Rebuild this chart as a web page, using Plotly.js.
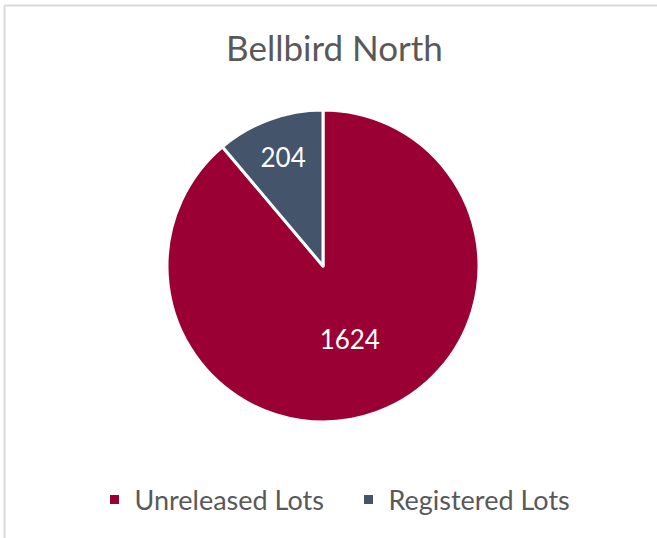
<!DOCTYPE html>
<html>
<head>
<meta charset="utf-8">
<script src="https://cdn.plot.ly/plotly-3.0.1.min.js"></script>
<style>html,body{margin:0;padding:0;background:#fff;}#chart{width:657px;height:538px;}</style>
</head>
<body>
<div id="chart"></div>
<script>
const categories = ["Unreleased Lots", "Registered Lots"];
const values = [1624, 204];
const colors = ["#9B0034", "#44546A"];
const chartTitle = "Bellbird North";

const W = 657, H = 538;
const cx = 323, cy = 266, R = 156;

const trace = {
  type: "pie",
  labels: categories,
  values: values,
  sort: false,
  direction: "clockwise",
  rotation: 0,
  marker: { colors: colors, line: { color: "#ffffff", width: 3 } },
  textinfo: "value",
  textposition: "inside",
  insidetextorientation: "horizontal",
  textfont: { family: "Lato, sans-serif", size: 26, color: "#ffffff" },
  hoverinfo: "none",
  domain: { x: [(cx - R) / W, (cx + R) / W], y: [1 - (cy + R) / H, 1 - (cy - R) / H] }
};

const layout = {
  width: W, height: H,
  margin: { l: 0, r: 0, t: 0, b: 0 },
  paper_bgcolor: "#ffffff",
  font: { family: "Lato, sans-serif", color: "#595959" },
  title: {
    text: chartTitle,
    font: { family: "Lato, sans-serif", size: 35, color: "#595959" },
    x: 334.5 / W, xanchor: "center", y: 1 - 49 / H, yanchor: "middle", yref: "paper"
  },
  showlegend: true,
  legend: {
    orientation: "h", x: 348.5 / W, xanchor: "center", y: 1 - 500 / H, yanchor: "middle",
    font: { family: "Lato, sans-serif", size: 27, color: "#595959" },
    itemwidth: 30, traceorder: "normal",
    entrywidth: 209, entrywidthmode: "pixels"
  },
  shapes: [
    { type: "line", xref: "paper", yref: "paper", x0: 4.5 / W, x1: 1, y0: 1 - 5.5 / H, y1: 1 - 5.5 / H, line: { color: "#d9d9d9", width: 2 } },
    { type: "line", xref: "paper", yref: "paper", x0: 4.5 / W, x1: 4.5 / W, y0: 0, y1: 1 - 5.5 / H, line: { color: "#d9d9d9", width: 2 } }
  ]
};

Plotly.newPlot("chart", [trace], layout, { displayModeBar: false, staticPlot: true });
</script>
</body>
</html>
